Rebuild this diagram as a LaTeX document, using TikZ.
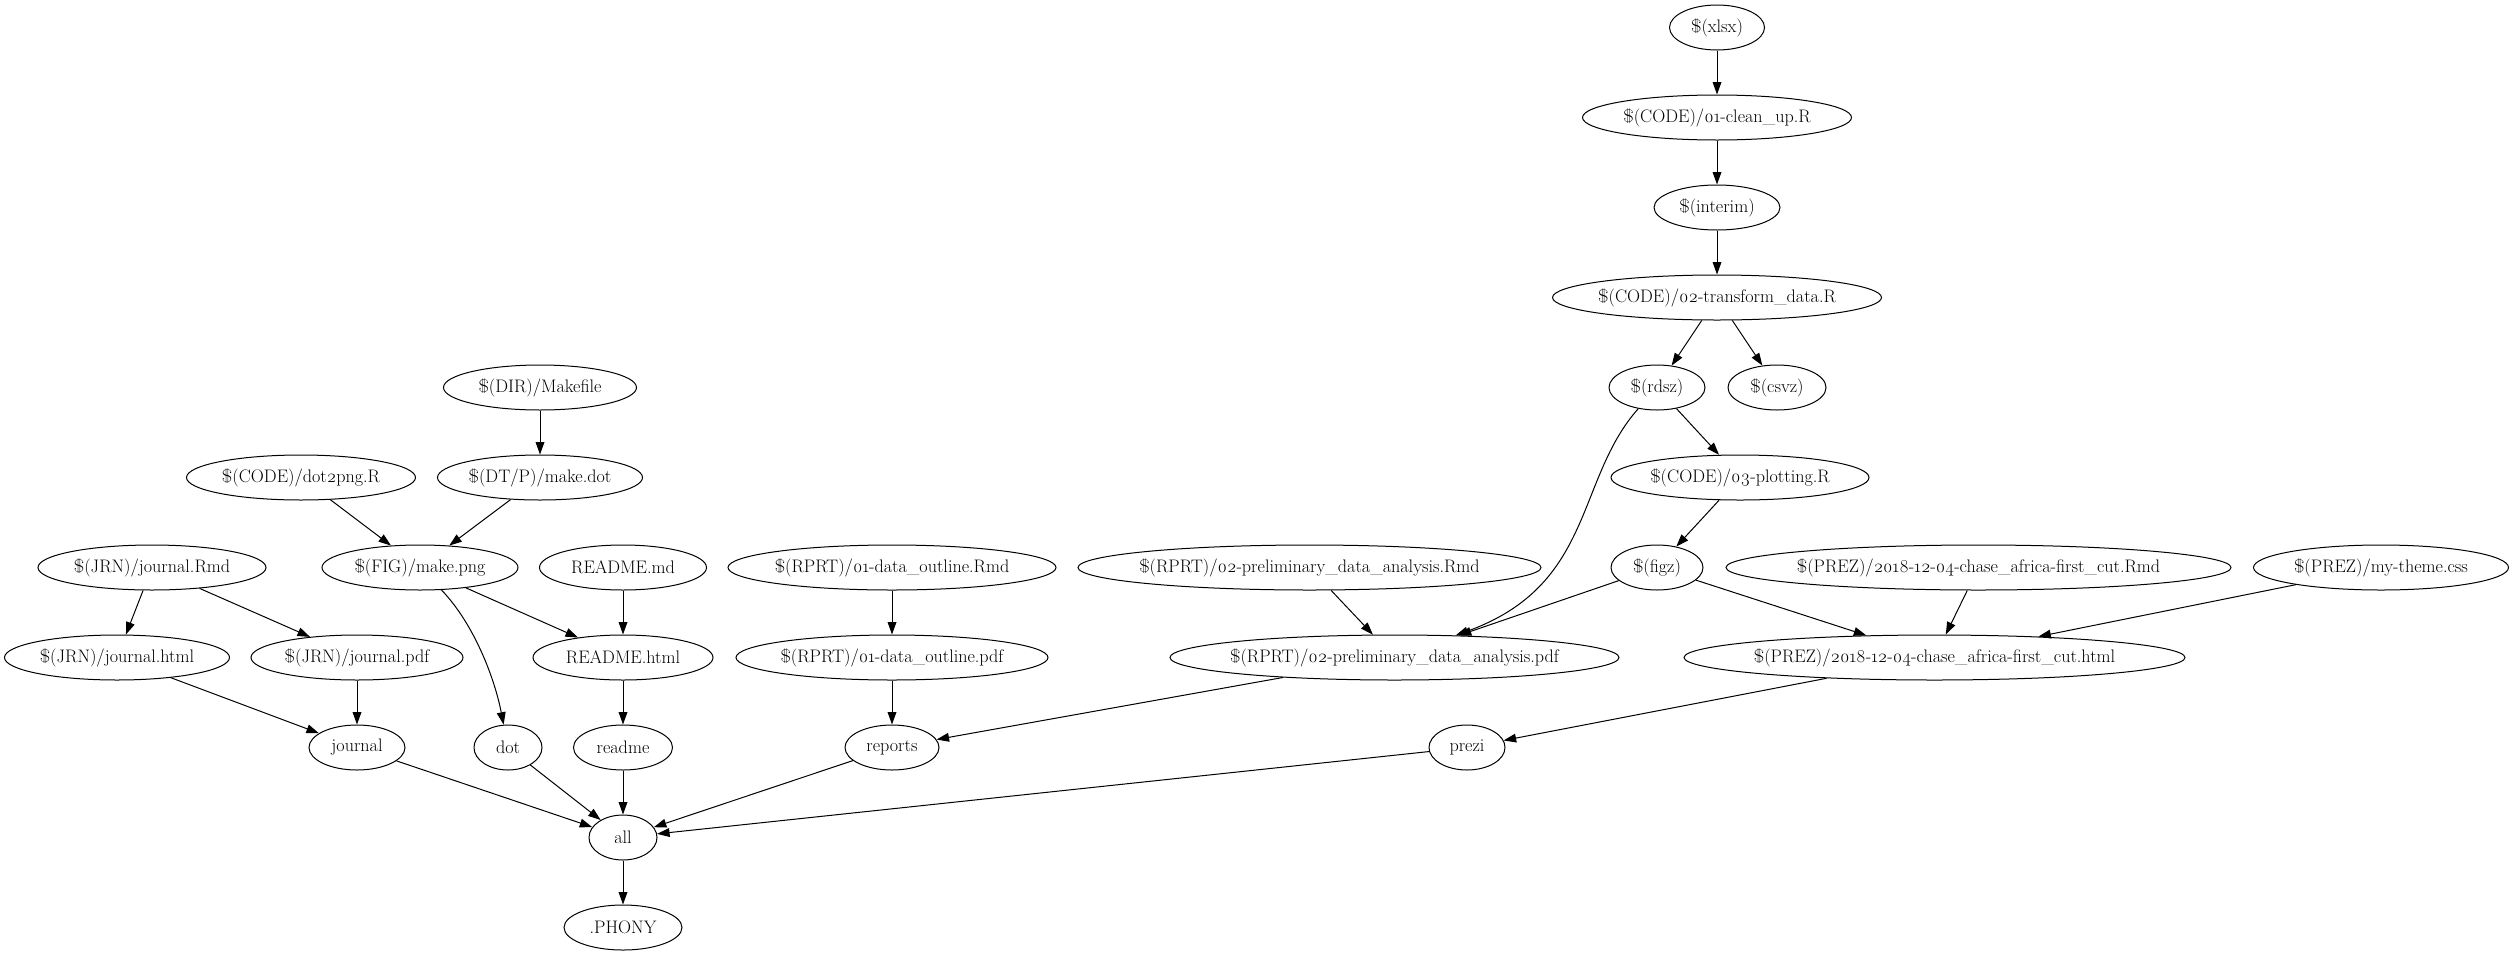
\documentclass[tikz,border=0pt]{standalone}
\usepackage{fontspec}
\setmainfont{Latin Modern Roman}[Numbers=OldStyle]
\usepackage{tikz}
\usetikzlibrary{shapes.geometric, arrows.meta}
\newcommand{\fname}[1]{\makebox[0pt]{#1}}

\begin{document}
\begin{tikzpicture}[x=0.8pt,y=-0.8pt,->,>={Triangle[length=10pt,width=7pt]},line width=0.8pt,
                    make node/.style={ellipse,draw,minimum height=36pt,minimum width=#1*0.8pt,
                    inner sep=0pt,font=\fontsize{14.5pt}{17pt}\selectfont}]

  \useasboundingbox (0,0) rectangle (2514,955);

  \node[make node=95]  (xlsx)      at (1717,27.5)  {\fname{\$(xlsx)}};
  \node[make node=269] (cleanup)   at (1717,117.5) {\fname{\$(CODE)/01-clean\_up.R}};
  \node[make node=126] (interim)   at (1717,207.5) {\fname{\$(interim)}};
  \node[make node=329] (transform) at (1717,297.5) {\fname{\$(CODE)/02-transform\_data.R}};

  \node[make node=193] (makefile)  at (540,387.5)  {\fname{\$(DIR)/Makefile}};
  \node[make node=96]  (rdsz)      at (1657,387.5) {\fname{\$(rdsz)}};
  \node[make node=98]  (csvz)      at (1777,387.5) {\fname{\$(csvz)}};

  \node[make node=229] (dotpng)    at (301,477.5)  {\fname{\$(CODE)/dot2png.R}};
  \node[make node=205] (makedot)   at (540,477.5)  {\fname{\$(DT/P)/make.dot}};
  \node[make node=258] (plotting)  at (1740,477.5) {\fname{\$(CODE)/03-plotting.R}};

  \node[make node=228] (jrnrmd)     at (152,567.5)    {\fname{\$(JRN)/journal.Rmd}};
  \node[make node=196] (makepng)    at (420,567.5)    {\fname{\$(FIG)/make.png}};
  \node[make node=167] (readmemd)   at (623,567.5)    {\fname{README.md}};
  \node[make node=328] (outlinermd) at (892,567.5)    {\fname{\$(RPRT)/01-data\_outline.Rmd}};
  \node[make node=463] (prelimrmd)  at (1309.5,567.5) {\fname{\$(RPRT)/02-preliminary\_data\_analysis.Rmd}};
  \node[make node=92]  (figz)       at (1657,567.5)   {\fname{\$(figz)}};
  \node[make node=505] (prezrmd)    at (1978.5,567.5) {\fname{\$(PREZ)/2018-12-04-chase\_africa-first\_cut.Rmd}};
  \node[make node=255] (theme)      at (2381,567.5)   {\fname{\$(PREZ)/my-theme.css}};

  \node[make node=225] (jrnhtml)    at (117,657.5)    {\fname{\$(JRN)/journal.html}};
  \node[make node=212] (jrnpdf)     at (357,657.5)    {\fname{\$(JRN)/journal.pdf}};
  \node[make node=180] (readmehtml) at (623,657.5)    {\fname{README.html}};
  \node[make node=312] (outlinepdf) at (892,657.5)    {\fname{\$(RPRT)/01-data\_outline.pdf}};
  \node[make node=449] (prelimpdf)  at (1394.5,657.5) {\fname{\$(RPRT)/02-preliminary\_data\_analysis.pdf}};
  \node[make node=501] (prezhtml)   at (1934.5,657.5) {\fname{\$(PREZ)/2018-12-04-chase\_africa-first\_cut.html}};

  \node[make node=96] (journal) at (357,747.5)  {\fname{journal}};
  \node[make node=68] (dot)     at (508,747.5)  {\fname{dot}};
  \node[make node=99] (readme)  at (623,747.5)  {\fname{readme}};
  \node[make node=94] (reports) at (892,747.5)  {\fname{reports}};
  \node[make node=76] (prezi)   at (1467,747.5) {\fname{prezi}};

  \node[make node=68]  (all)   at (623,837.5) {\fname{all}};
  \node[make node=118] (phony) at (623,927.5) {\fname{.PHONY}};

  \path
    (xlsx) edge (cleanup)
    (cleanup) edge (interim)
    (interim) edge (transform)
    (transform) edge (rdsz)
    edge (csvz)
    (rdsz) edge (plotting)
    (plotting) edge (figz)
    (figz) edge (prelimpdf)
    edge (prezhtml)
    (prezrmd) edge (prezhtml)
    (theme) edge (prezhtml)
    (prelimrmd) edge (prelimpdf)
    (outlinermd) edge (outlinepdf)
    (outlinepdf) edge (reports)
    (prelimpdf) edge (reports)
    (prezhtml) edge (prezi)
    (makefile) edge (makedot)
    (dotpng) edge (makepng)
    (makedot) edge (makepng)
    (jrnrmd) edge (jrnhtml)
    edge (jrnpdf)
    (makepng) edge (readmehtml)
    (readmemd) edge (readmehtml)
    (readmehtml) edge (readme)
    (jrnhtml) edge (journal)
    (jrnpdf) edge (journal)
    (journal) edge (all)
    (dot) edge (all)
    (readme) edge (all)
    (reports) edge (all)
    (prezi) edge (all)
    (all) edge (phony);

  % the two bent ones
  \draw (rdsz) .. controls (1575,480) and (1595,585) .. (prelimpdf);
  \draw (makepng) .. controls (475,625) and (495,680) .. (dot);

\end{tikzpicture}
\end{document}
